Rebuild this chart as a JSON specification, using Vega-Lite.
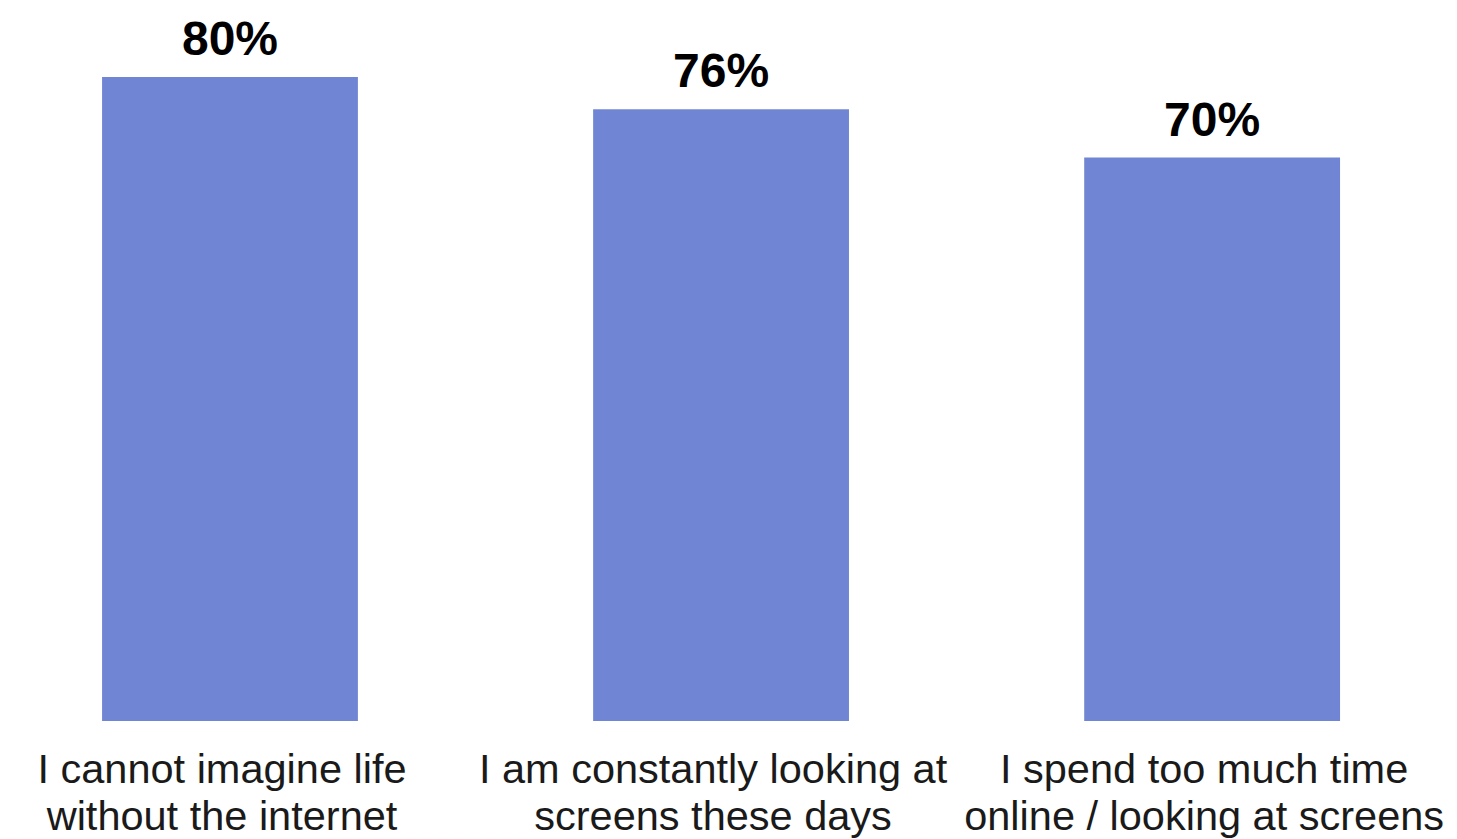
{
  "$schema": "https://vega.github.io/schema/vega-lite/v6.json",
  "width": 1457,
  "height": 721,
  "padding": {"left": 0, "top": 0, "right": 0, "bottom": 118},
  "autosize": {"type": "none"},
  "background": "white",
  "config": {"view": {"stroke": null}, "font": "Liberation Sans"},
  "data": {
    "values": [
      {"statement": "I cannot imagine life|without the internet", "share": 0.80, "label": "80%"},
      {"statement": "I am constantly looking at|screens these days", "share": 0.76, "label": "76%"},
      {"statement": "I spend too much time|online / looking at screens", "share": 0.70, "label": "70%"}
    ]
  },
  "encoding": {
    "x": {
      "field": "statement",
      "type": "nominal",
      "sort": null,
      "scale": {"paddingInner": 0.479, "paddingOuter": 0.223, "align": 0.466},
      "axis": {
        "title": null,
        "labelAngle": 0,
        "labelLimit": 700,
        "labelOverlap": false,
        "labelBound": false,
        "labelFlush": false,
        "domain": false,
        "ticks": false,
        "labelFont": "Liberation Sans",
        "labelFontSize": 41.5,
        "labelLineHeight": 47,
        "labelColor": "#1a1a1a",
        "labelPadding": 61,
        "labelBaseline": "alphabetic",
        "labelOffset": -8,
        "labelExpr": "split(datum.label, '|')"
      }
    },
    "y": {
      "field": "share",
      "type": "quantitative",
      "scale": {"domain": [0, 0.8957], "nice": false, "zero": true},
      "axis": null
    }
  },
  "layer": [
    {"mark": {"type": "bar", "color": "#7086D4"}},
    {
      "mark": {
        "type": "text",
        "font": "Liberation Sans",
        "fontWeight": "bold",
        "fontSize": 48,
        "baseline": "alphabetic",
        "dy": -22,
        "color": "#000000"
      },
      "encoding": {"text": {"field": "label"}}
    }
  ]
}
